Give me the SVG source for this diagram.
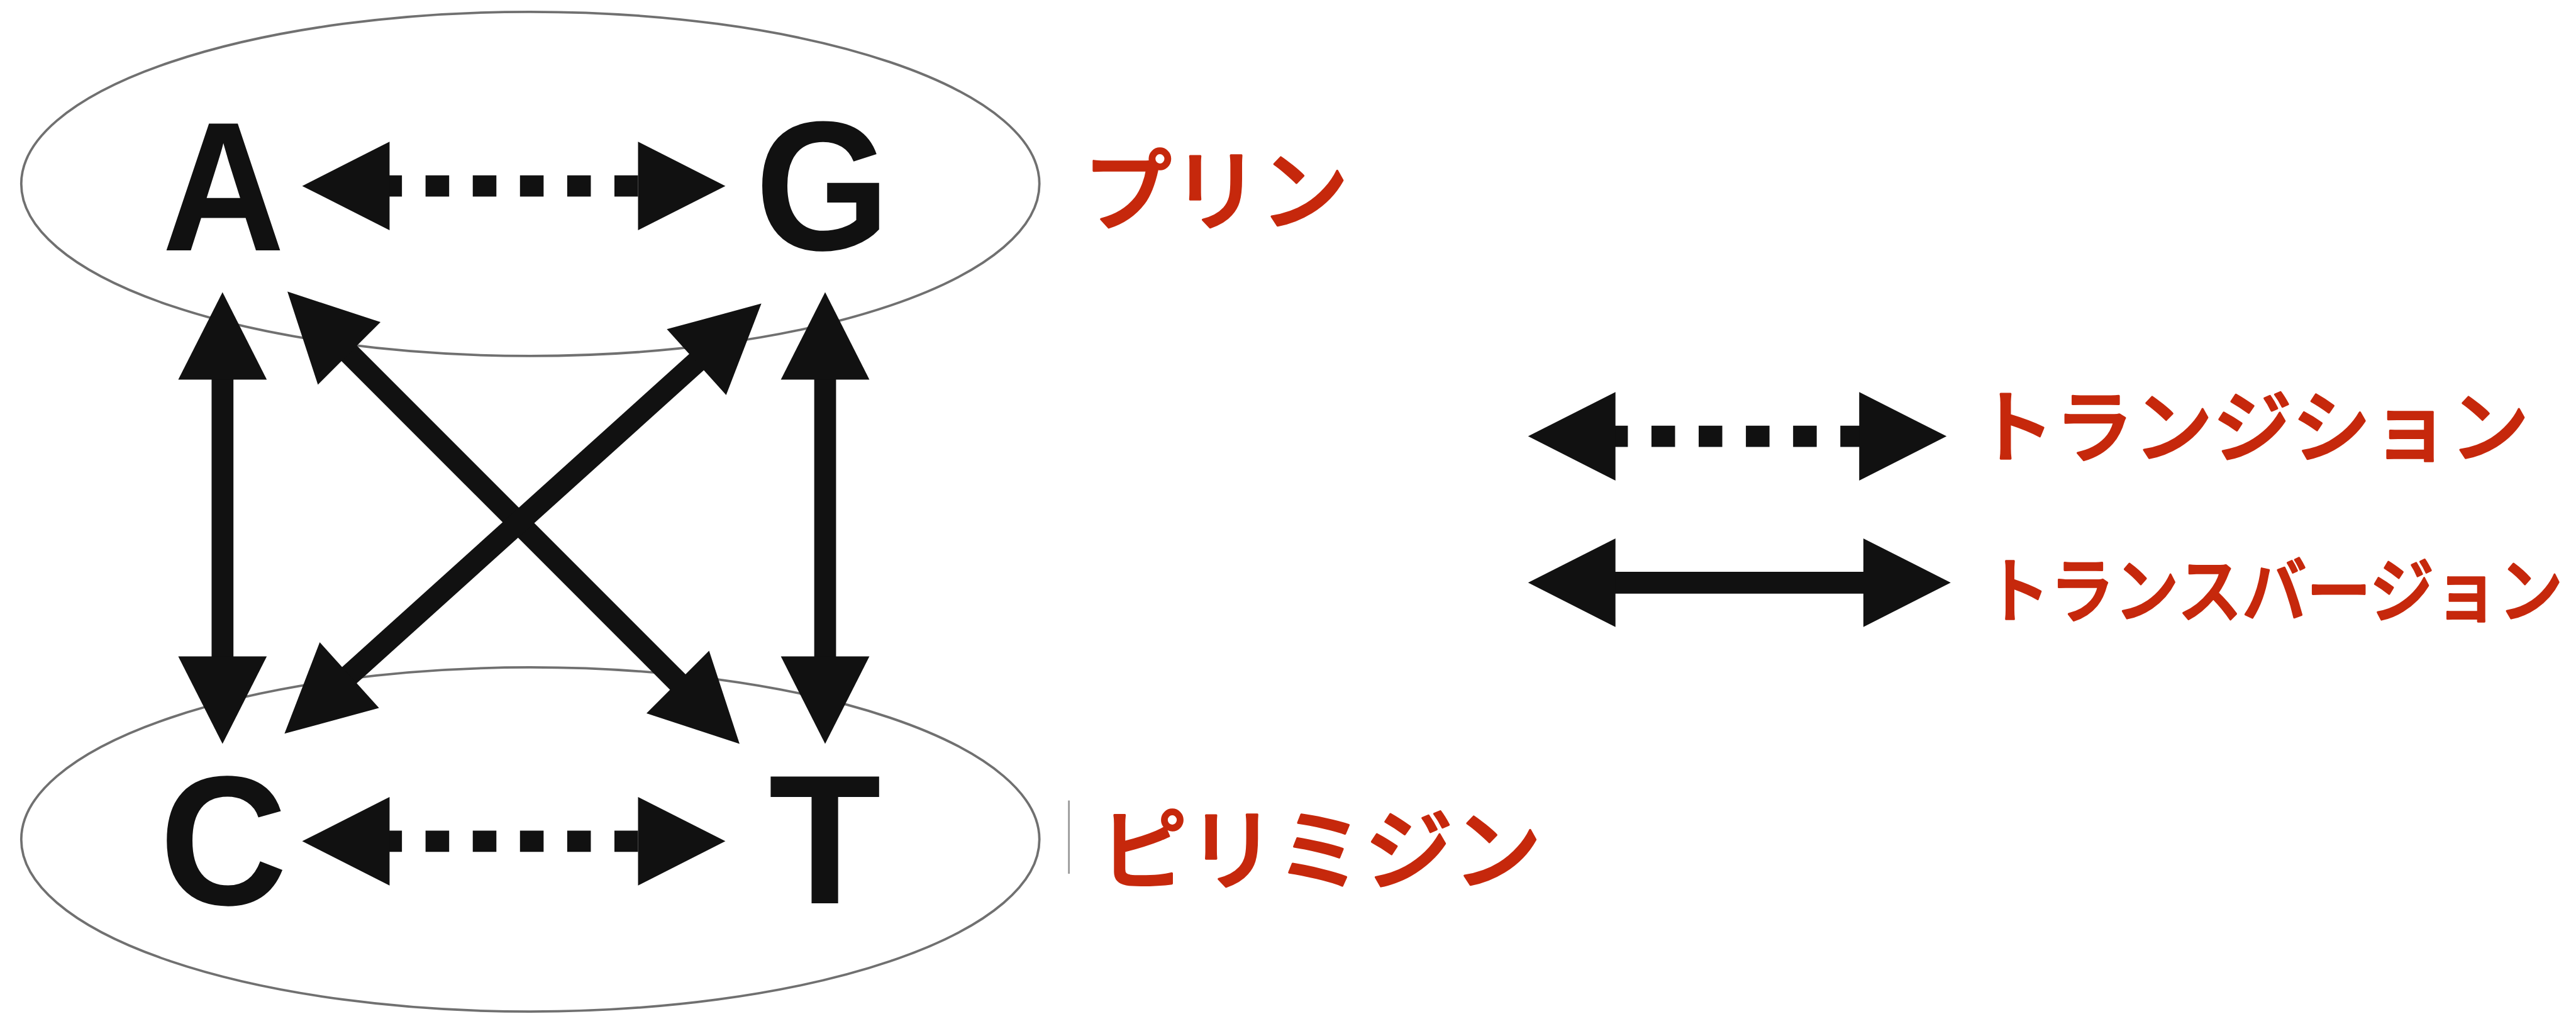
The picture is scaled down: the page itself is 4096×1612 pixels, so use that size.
<svg xmlns="http://www.w3.org/2000/svg" width="4096" height="1612" viewBox="0 0 4096 1612">
  <style>
    .base { font-family: "Liberation Sans", Arial, sans-serif; font-weight: 700; font-size: 312px; fill: #111; text-anchor: middle; }
    .ring { fill: none; stroke: #707070; stroke-width: 4; }
    .arrow { fill: none; stroke: #111; stroke-width: 37; marker-start: url(#head); marker-end: url(#head); }
    .dotted { stroke-width: 36; stroke-dasharray: 40 40; stroke-dashoffset: 11; }
    .jp { font-family: "Noto Sans CJK JP", sans-serif; font-weight: 500; fill: #c6280c; stroke: #c6280c; stroke-width: 3.5; stroke-linejoin: round; }
  </style>
  <defs>
    <marker id="head" markerUnits="userSpaceOnUse" markerWidth="150" markerHeight="152" viewBox="0 -76 150 152" refX="8" refY="0" orient="auto-start-reverse" overflow="visible">
      <path d="M0,-75 L148,0 L0,75 Z" fill="#111"/>
    </marker>
  </defs>
  <rect width="4096" height="1612" fill="#fff"/>
  <g transform="scale(0.9385)">
    <!-- base groups -->
    <g id="purines">
      <ellipse class="ring" cx="898.5" cy="311.5" rx="862.5" ry="291.5"/>
    </g>
    <g id="pyrimidines">
      <ellipse class="ring" cx="898.5" cy="1422" rx="862.5" ry="291.5"/>
    </g>

    <!-- substitutions between bases -->
    <g id="connectors">
      <line class="arrow dotted" x1="652" y1="315" x2="1089" y2="315"/>
      <line class="arrow dotted" x1="652" y1="1425" x2="1089" y2="1425"/>
      <line class="arrow" x1="377" y1="635" x2="377" y2="1120"/>
      <line class="arrow" x1="1398" y1="635" x2="1398" y2="1120"/>
      <line class="arrow" x1="586" y1="593" x2="1154" y2="1161"/>
      <line class="arrow" x1="586" y1="1149" x2="1186" y2="608"/>
    </g>

    <g id="node-A"><text class="base" transform="translate(378.5,424) scale(0.92,1)">A</text></g>
    <g id="node-G"><text class="base" transform="translate(1393.5,423) scale(0.94,1)">G</text></g>
    <g id="node-C"><text class="base" transform="translate(378.5,1532) scale(0.96,1)">C</text></g>
    <g id="node-T"><text class="base" transform="translate(1397.5,1530)">T</text></g>

    <g id="group-labels">
      <text class="jp" x="1835" y="378" font-size="150">プリン</text>
      <line x1="1811" y1="1356" x2="1811" y2="1480" stroke="#9a9a9a" stroke-width="3"/>
      <text class="jp" x="1862" y="1495" font-size="150">ピリミジン</text>
    </g>

    <!-- legend -->
    <g id="legend">
      <line class="arrow dotted" x1="2729" y1="739" x2="3158" y2="739"/>
      <line class="arrow" x1="2729" y1="987" x2="3165" y2="987"/>
      <text class="jp" x="3347" y="773" font-size="134">トランジション</text>
      <text class="jp" transform="translate(3364,1044) scale(0.91,1)" font-size="120">トランスバージョン</text>
    </g>
  </g>
</svg>
